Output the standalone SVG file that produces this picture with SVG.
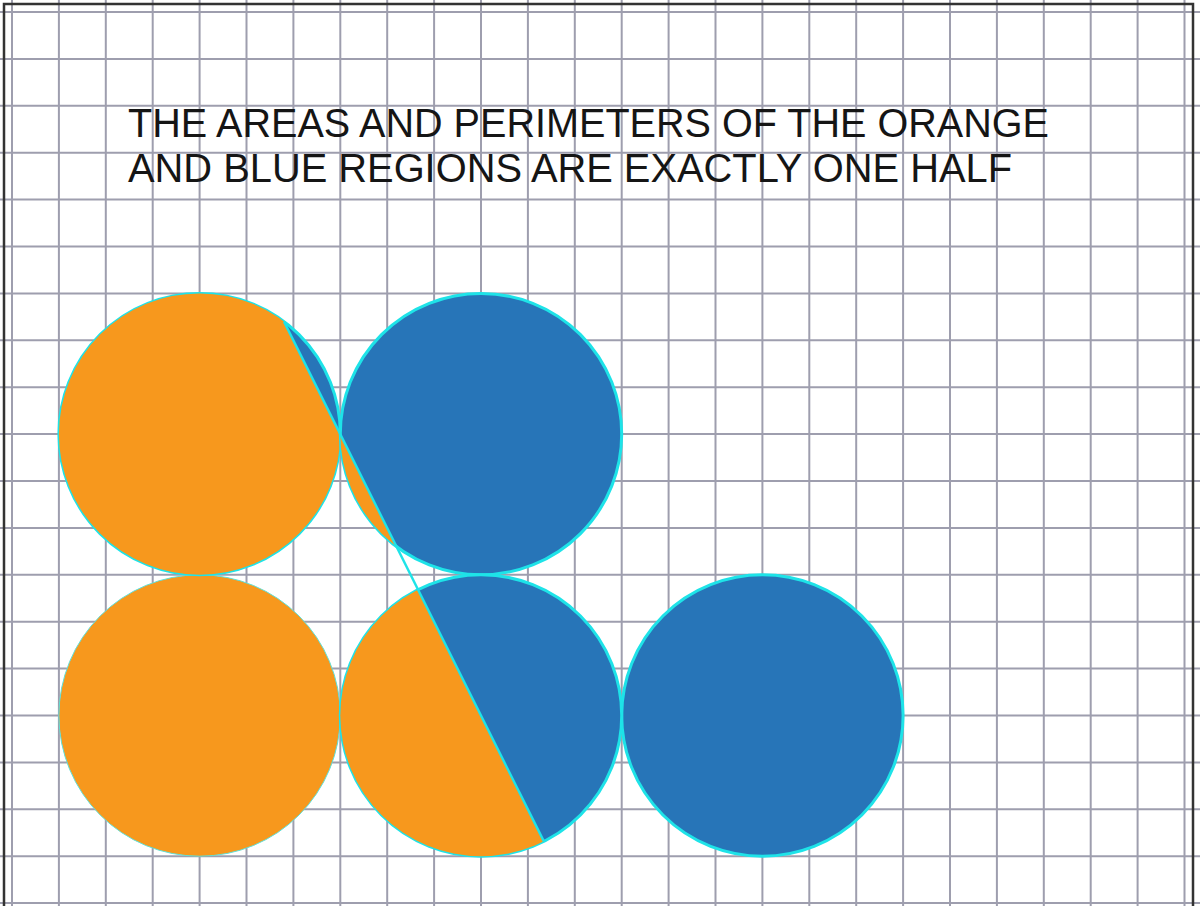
<svg xmlns="http://www.w3.org/2000/svg" width="1200" height="906" viewBox="0 0 1200 906">
  <style>
    .grid line { stroke: #9e9eae; stroke-width: 2; }
    .title { font-family: "Liberation Sans", Arial, sans-serif; font-size: 40px; fill: #151515; }
    .orange { fill: #f7981d; }
    .blue { fill: #2775b8; }
    .edge { stroke: #1ee3e8; stroke-width: 3; }
    .thin { stroke: #5fe0d8; stroke-width: 1; }
    .cut { stroke: #1ee3e8; stroke-width: 2.4; fill: none; }
  </style>
  <defs>
    <clipPath id="leftHalf">
      <polygon points="0,0 123.2,0 576.2,906 0,906"/>
    </clipPath>
  </defs>
  <rect x="0" y="0" width="1200" height="906" fill="#ffffff"/>
  <g class="grid" id="grid">
    <line x1="12" y1="0" x2="12" y2="906"/>
    <line x1="58.9" y1="0" x2="58.9" y2="906"/>
    <line x1="105.8" y1="0" x2="105.8" y2="906"/>
    <line x1="152.7" y1="0" x2="152.7" y2="906"/>
    <line x1="199.6" y1="0" x2="199.6" y2="906"/>
    <line x1="246.5" y1="0" x2="246.5" y2="906"/>
    <line x1="293.4" y1="0" x2="293.4" y2="906"/>
    <line x1="340.3" y1="0" x2="340.3" y2="906"/>
    <line x1="387.2" y1="0" x2="387.2" y2="906"/>
    <line x1="434.1" y1="0" x2="434.1" y2="906"/>
    <line x1="481" y1="0" x2="481" y2="906"/>
    <line x1="527.9" y1="0" x2="527.9" y2="906"/>
    <line x1="574.8" y1="0" x2="574.8" y2="906"/>
    <line x1="621.7" y1="0" x2="621.7" y2="906"/>
    <line x1="668.6" y1="0" x2="668.6" y2="906"/>
    <line x1="715.5" y1="0" x2="715.5" y2="906"/>
    <line x1="762.4" y1="0" x2="762.4" y2="906"/>
    <line x1="809.3" y1="0" x2="809.3" y2="906"/>
    <line x1="856.2" y1="0" x2="856.2" y2="906"/>
    <line x1="903.1" y1="0" x2="903.1" y2="906"/>
    <line x1="950" y1="0" x2="950" y2="906"/>
    <line x1="996.9" y1="0" x2="996.9" y2="906"/>
    <line x1="1043.8" y1="0" x2="1043.8" y2="906"/>
    <line x1="1090.7" y1="0" x2="1090.7" y2="906"/>
    <line x1="1137.6" y1="0" x2="1137.6" y2="906"/>
    <line x1="1184.5" y1="0" x2="1184.5" y2="906"/>
    <line x1="0" y1="12" x2="1200" y2="12"/>
    <line x1="0" y1="58.9" x2="1200" y2="58.9"/>
    <line x1="0" y1="105.8" x2="1200" y2="105.8"/>
    <line x1="0" y1="152.7" x2="1200" y2="152.7"/>
    <line x1="0" y1="199.6" x2="1200" y2="199.6"/>
    <line x1="0" y1="246.5" x2="1200" y2="246.5"/>
    <line x1="0" y1="293.4" x2="1200" y2="293.4"/>
    <line x1="0" y1="340.3" x2="1200" y2="340.3"/>
    <line x1="0" y1="387.2" x2="1200" y2="387.2"/>
    <line x1="0" y1="434.1" x2="1200" y2="434.1"/>
    <line x1="0" y1="481" x2="1200" y2="481"/>
    <line x1="0" y1="527.9" x2="1200" y2="527.9"/>
    <line x1="0" y1="574.8" x2="1200" y2="574.8"/>
    <line x1="0" y1="621.7" x2="1200" y2="621.7"/>
    <line x1="0" y1="668.6" x2="1200" y2="668.6"/>
    <line x1="0" y1="715.5" x2="1200" y2="715.5"/>
    <line x1="0" y1="762.4" x2="1200" y2="762.4"/>
    <line x1="0" y1="809.3" x2="1200" y2="809.3"/>
    <line x1="0" y1="856.2" x2="1200" y2="856.2"/>
    <line x1="0" y1="903.1" x2="1200" y2="903.1"/>
  </g>
  <rect id="frame" x="4" y="4" width="1189" height="912" fill="none" stroke="#333333" stroke-width="2.5"/>
  <g id="title">
    <text class="title" x="128" y="137" textLength="921" lengthAdjust="spacingAndGlyphs">THE AREAS AND PERIMETERS OF THE ORANGE</text>
    <text class="title" x="128" y="182" textLength="884" lengthAdjust="spacingAndGlyphs">AND BLUE REGIONS ARE EXACTLY ONE HALF</text>
  </g>
  <g id="circle-bottom-left">
    <circle class="orange thin" cx="199.6" cy="715.5" r="140.7"/>
  </g>
  <g id="circle-bottom-right">
    <circle class="blue edge" cx="762.4" cy="715.5" r="140.7"/>
  </g>
  <g id="circle-top-left">
    <circle class="blue edge" cx="199.6" cy="434.1" r="140.7"/>
    <circle class="orange" cx="199.6" cy="434.1" r="140.7" clip-path="url(#leftHalf)"/>
  </g>
  <g id="circle-top-middle">
    <circle class="blue edge" cx="481" cy="434.1" r="140.7"/>
    <circle class="orange" cx="481" cy="434.1" r="140.7" clip-path="url(#leftHalf)"/>
  </g>
  <g id="circle-bottom-middle">
    <circle class="blue edge" cx="481" cy="715.5" r="140.7"/>
    <circle class="orange" cx="481" cy="715.5" r="140.7" clip-path="url(#leftHalf)"/>
  </g>
  <g id="connectors">
    <line class="cut" x1="284.0" y1="321.6" x2="543.9" y2="841.4"/>
  </g>
</svg>
